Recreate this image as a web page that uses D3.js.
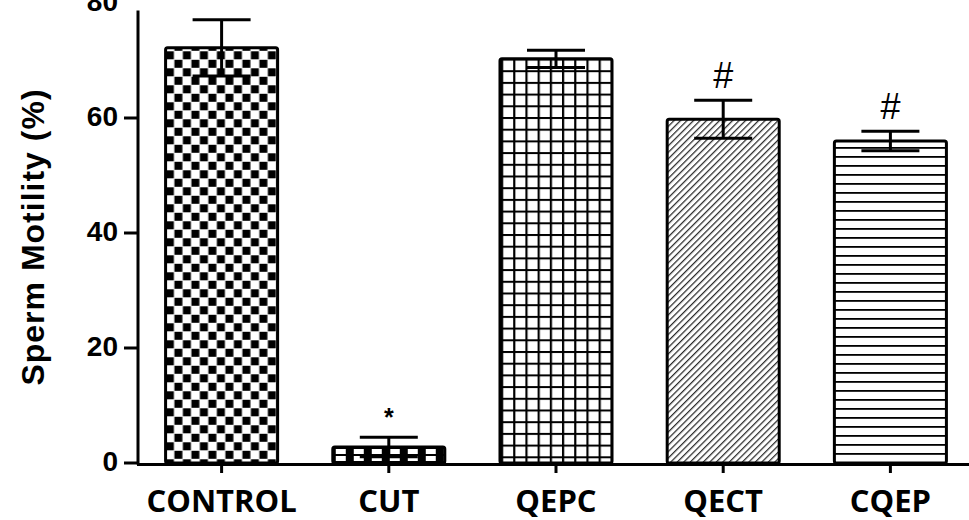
<!DOCTYPE html>
<html>
<head>
<meta charset="utf-8">
<script src="https://cdn.jsdelivr.net/npm/d3@7"></script>
<style>
  html, body { margin: 0; padding: 0; background: #fff; }
  svg { display: block; }
</style>
</head>
<body>
<svg id="chart" width="969" height="520"></svg>
<script>
// Sperm motility (%) per treatment group, mean ± SEM
const groups = ["CONTROL", "CUT", "QEPC", "QECT", "CQEP"];
const motility = [72.2, 2.8, 70.3, 59.8, 56.0];
const sem = [4.9, 1.7, 1.5, 3.3, 1.7];
const marks = ["", "*", "", "#", "#"];
const patterns = ["checker", "brick", "grid", "hatch", "hlines"];
const yTicks = [0, 20, 40, 60, 80];

const svg = d3.select("#chart");

const x = d3.scaleBand()
  .domain(groups)
  .range([138, 974])
  .paddingInner(0.33)
  .paddingOuter(0.165);

const y = d3.scaleLinear().domain([0, 80]).range([463, 3]);

// fill patterns
const defs = svg.append("defs");
groups.forEach((g, i) => {
  const bx = x(g);
  const p = defs.append("pattern")
    .attr("id", "pat" + i)
    .attr("patternUnits", "userSpaceOnUse");
  const kind = patterns[i];
  if (kind === "checker") {
    p.attr("x", bx).attr("y", 0).attr("width", 17).attr("height", 17);
    p.append("rect").attr("width", 17).attr("height", 17).attr("fill", "#fff");
    p.append("rect").attr("x", 0.3).attr("y", 0.3).attr("width", 8).attr("height", 8).attr("fill", "#000");
    p.append("rect").attr("x", 8.8).attr("y", 8.8).attr("width", 8).attr("height", 8).attr("fill", "#000");
  } else if (kind === "brick") {
    p.attr("x", bx).attr("y", y(0)).attr("width", 18).attr("height", 16);
    p.append("rect").attr("width", 18).attr("height", 16).attr("fill", "#000");
    p.append("rect").attr("x", 3).attr("y", 2).attr("width", 10).attr("height", 5).attr("fill", "#fff");
    p.append("rect").attr("x", 3).attr("y", 9).attr("width", 10).attr("height", 5).attr("fill", "#fff");
  } else if (kind === "grid") {
    p.attr("x", bx + 1).attr("y", 0).attr("width", 12.2).attr("height", 11.7);
    p.append("rect").attr("width", 12.2).attr("height", 11.7).attr("fill", "#fff");
    p.append("rect").attr("x", 0).attr("y", 0).attr("width", 2.2).attr("height", 11.7).attr("fill", "#000");
    p.append("rect").attr("x", 0).attr("y", 0).attr("width", 12.2).attr("height", 2).attr("fill", "#000");
  } else if (kind === "hatch") {
    p.attr("width", 4.6).attr("height", 10).attr("patternTransform", "rotate(45)");
    p.append("rect").attr("width", 4.6).attr("height", 10).attr("fill", "#fff");
    p.append("line").attr("x1", 0.6).attr("y1", 0).attr("x2", 0.6).attr("y2", 10)
      .attr("stroke", "#2a2a2a").attr("stroke-width", 1.3);
  } else {
    p.attr("x", 0).attr("y", y(0) - 1).attr("width", 10).attr("height", 9);
    p.append("rect").attr("width", 10).attr("height", 9).attr("fill", "#fff");
    p.append("rect").attr("x", 0).attr("y", 0).attr("width", 10).attr("height", 1.8).attr("fill", "#000");
  }
});

// bars
svg.append("g").selectAll("rect")
  .data(groups)
  .join("rect")
  .attr("x", d => x(d))
  .attr("y", (d, i) => y(motility[i]))
  .attr("width", x.bandwidth())
  .attr("height", (d, i) => y(0) - y(motility[i]))
  .attr("rx", 2)
  .attr("fill", (d, i) => `url(#pat${i})`)
  .attr("stroke", "#000")
  .attr("stroke-width", 3);

// error bars (mean ± SEM)
const capHalf = 29;
const eb = svg.append("g").attr("stroke", "#000").attr("stroke-width", 3);
groups.forEach((g, i) => {
  const cx = x(g) + x.bandwidth() / 2;
  const hi = y(motility[i] + sem[i]);
  const lo = y(Math.max(0, motility[i] - sem[i]));
  eb.append("line").attr("x1", cx).attr("x2", cx).attr("y1", hi).attr("y2", lo);
  eb.append("line").attr("x1", cx - capHalf).attr("x2", cx + capHalf).attr("y1", hi).attr("y2", hi);
  eb.append("line").attr("x1", cx - capHalf).attr("x2", cx + capHalf).attr("y1", lo).attr("y2", lo);
});

// significance marks
svg.append("g").selectAll("text")
  .data(groups)
  .join("text")
  .attr("x", d => x(d) + x.bandwidth() / 2)
  .attr("y", (d, i) => y(motility[i] + sem[i]) - (marks[i] === "*" ? 11 : 12))
  .attr("text-anchor", "middle")
  .attr("font-family", "'Liberation Sans', Arial, sans-serif")
  .attr("font-size", (d, i) => marks[i] === "*" ? 25 : 36)
  .attr("font-weight", (d, i) => marks[i] === "*" ? "bold" : "normal")
  .attr("fill", "#000")
  .text((d, i) => marks[i]);

// y axis
const yAxis = svg.append("g");
yAxis.append("line")
  .attr("x1", 138).attr("x2", 138)
  .attr("y1", y(78.7)).attr("y2", y(0) + 1.5)
  .attr("stroke", "#000").attr("stroke-width", 3);
yAxis.selectAll("line.tick")
  .data(yTicks.filter(v => v < 80))
  .join("line")
  .attr("class", "tick")
  .attr("x1", 124).attr("x2", 138)
  .attr("y1", d => y(d)).attr("y2", d => y(d))
  .attr("stroke", "#000").attr("stroke-width", 3);
yAxis.selectAll("text")
  .data(yTicks)
  .join("text")
  .attr("x", 118)
  .attr("y", d => y(d))
  .attr("dy", "0.3em")
  .attr("text-anchor", "end")
  .attr("font-family", "'Liberation Sans', Arial, sans-serif")
  .attr("font-weight", "bold")
  .attr("font-size", 28)
  .attr("fill", "#000")
  .text(d => d);

// x axis
const xAxis = svg.append("g");
xAxis.append("line")
  .attr("x1", 137).attr("x2", 969)
  .attr("y1", y(0) + 1.5).attr("y2", y(0) + 1.5)
  .attr("stroke", "#000").attr("stroke-width", 3);
xAxis.selectAll("line.tick")
  .data(groups)
  .join("line")
  .attr("class", "tick")
  .attr("x1", d => x(d) + x.bandwidth() / 2)
  .attr("x2", d => x(d) + x.bandwidth() / 2)
  .attr("y1", y(0) + 1.5).attr("y2", y(0) + 10)
  .attr("stroke", "#000").attr("stroke-width", 3);
xAxis.selectAll("text")
  .data(groups)
  .join("text")
  .attr("x", d => x(d) + x.bandwidth() / 2)
  .attr("y", 512)
  .attr("text-anchor", "middle")
  .attr("font-family", "'Open Sans', sans-serif")
  .attr("font-weight", "bold")
  .attr("font-size", 31)
  .attr("fill", "#000")
  .text(d => d);

// y axis title
svg.append("text")
  .attr("transform", "translate(44,237) rotate(-90)")
  .attr("text-anchor", "middle")
  .attr("font-family", "'Liberation Sans', Arial, sans-serif")
  .attr("font-weight", "bold")
  .attr("font-size", 32)
  .attr("letter-spacing", 1)
  .attr("fill", "#000")
  .text("Sperm Motility (%)");
</script>
</body>
</html>
